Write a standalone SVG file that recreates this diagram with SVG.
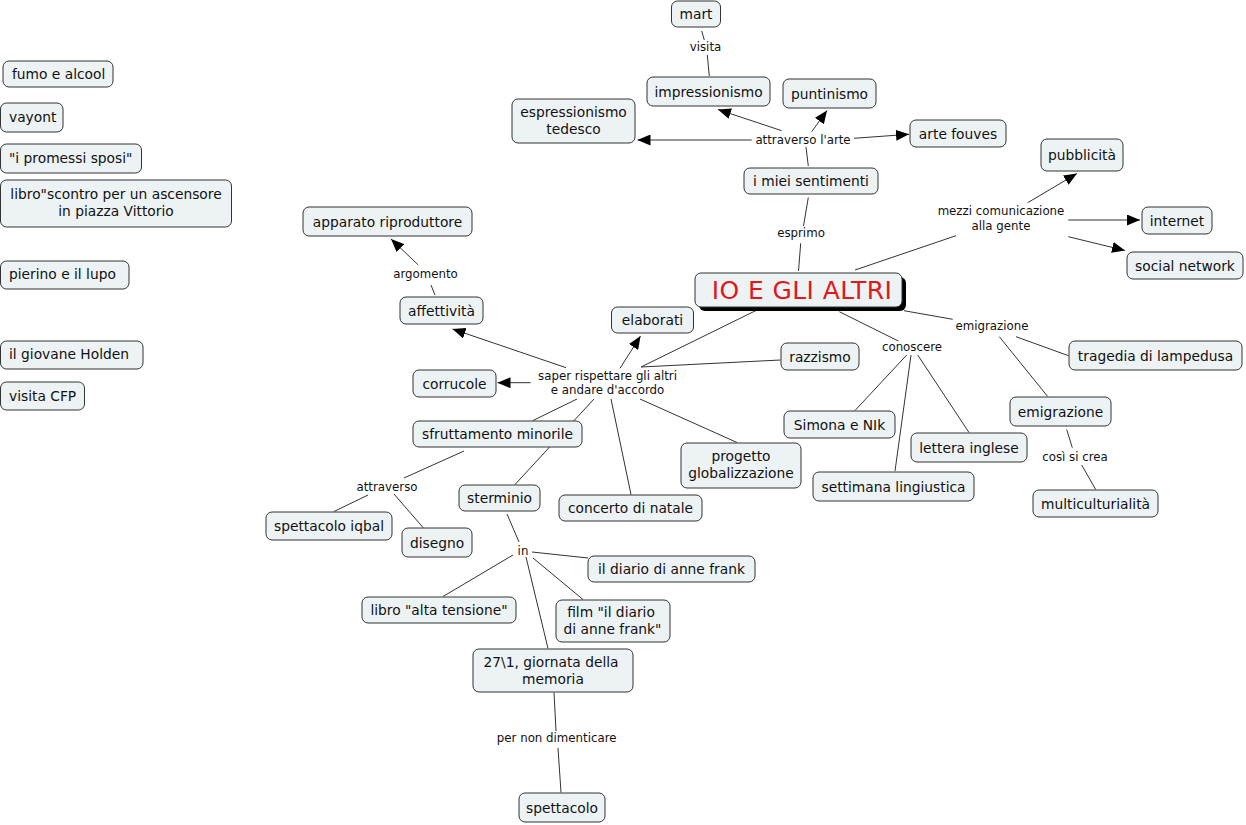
<svg xmlns="http://www.w3.org/2000/svg" width="1246" height="825" viewBox="0 0 1246 825">
<style>
.n rect.b{fill:#edf3f5;stroke:#333;stroke-width:1}
.n text{font-family:"DejaVu Sans",Verdana,sans-serif;font-size:13.8px;fill:#111;text-anchor:middle}
.n text.l{text-anchor:start}
.lb{font-family:"DejaVu Sans",Verdana,sans-serif;font-size:11.8px;fill:#111;text-anchor:middle}
#connectors line{stroke:#333;stroke-width:1;fill:none}
#connectors line.a{marker-end:url(#arr)}
</style>
<defs>
<marker id="arr" markerUnits="userSpaceOnUse" markerWidth="13" markerHeight="11" refX="13" refY="5.5" orient="auto">
<path d="M0,0 L13,5.5 L0,11 z" fill="#000"/>
</marker>
</defs>
<rect width="1246" height="825" fill="#fff"/>
<g id="connectors">
<line x1="701.7" y1="31" x2="704.3" y2="40"/>
<line x1="707.3" y1="55" x2="709.3" y2="76"/>
<line class="a" x1="781.7" y1="130.7" x2="718" y2="109.5"/>
<line class="a" x1="811.7" y1="131.7" x2="827" y2="110.5"/>
<line class="a" x1="751.7" y1="140" x2="637.5" y2="140"/>
<line class="a" x1="854" y1="138.3" x2="909" y2="134.3"/>
<line x1="806" y1="147" x2="808.3" y2="166"/>
<line x1="808.3" y1="197.5" x2="803.5" y2="226"/>
<line x1="800.7" y1="243.3" x2="798.5" y2="271"/>
<line x1="855" y1="270" x2="956" y2="235.7"/>
<line class="a" x1="1027.7" y1="202.7" x2="1077" y2="173.5"/>
<line class="a" x1="1068.3" y1="220" x2="1140" y2="220"/>
<line class="a" x1="1068.3" y1="236.7" x2="1125" y2="250.5"/>
<line x1="904" y1="310.7" x2="952.7" y2="319.3"/>
<line x1="1016" y1="336.7" x2="1068.5" y2="355.7"/>
<line x1="999.3" y1="336.7" x2="1047.7" y2="396.5"/>
<line x1="1066.7" y1="429.5" x2="1072.3" y2="447.7"/>
<line x1="1081.7" y1="465" x2="1095.7" y2="489.5"/>
<line x1="839.3" y1="311.7" x2="898.3" y2="341"/>
<line x1="906.7" y1="355" x2="855" y2="410.5"/>
<line x1="911" y1="355" x2="895" y2="471"/>
<line x1="917.7" y1="355" x2="969" y2="432.5"/>
<line x1="641" y1="367" x2="757" y2="310"/>
<line x1="641" y1="367" x2="780.5" y2="360"/>
<line class="a" x1="620" y1="368.3" x2="640.5" y2="336"/>
<line class="a" x1="566" y1="367.7" x2="452.5" y2="329"/>
<line class="a" x1="530.7" y1="382.7" x2="497.5" y2="382.7"/>
<line x1="435" y1="295" x2="431" y2="285"/>
<line class="a" x1="418.3" y1="265" x2="391" y2="239"/>
<line x1="577" y1="399" x2="533" y2="420.5"/>
<line x1="594" y1="399" x2="515" y2="484.5"/>
<line x1="611" y1="399" x2="631" y2="494.5"/>
<line x1="640" y1="399" x2="737" y2="442.5"/>
<line x1="464" y1="451" x2="404" y2="478"/>
<line x1="368" y1="495" x2="334" y2="511.5"/>
<line x1="394" y1="494" x2="423" y2="527.5"/>
<line x1="507" y1="514" x2="519" y2="542"/>
<line x1="532" y1="552" x2="588" y2="558"/>
<line x1="513" y1="555" x2="443" y2="596.5"/>
<line x1="533" y1="558" x2="583" y2="599.5"/>
<line x1="526" y1="557" x2="548" y2="648.5"/>
<line x1="554" y1="692.5" x2="556" y2="731"/>
<line x1="558" y1="748" x2="561" y2="792.5"/>
</g>
<g id="labels">
<text class="lb" x="705.5" y="51">visita</text>
<text class="lb" x="803" y="144">attraverso l'arte</text>
<text class="lb" x="801" y="237">esprimo</text>
<text class="lb" x="1001" y="215">mezzi comunicazione</text>
<text class="lb" x="1001" y="230">alla gente</text>
<text class="lb" x="992" y="330">emigrazione</text>
<text class="lb" x="912" y="351">conoscere</text>
<text class="lb" x="1075" y="461">così si crea</text>
<text class="lb" x="425.5" y="278">argomento</text>
<text class="lb" x="607.5" y="380">saper rispettare gli altri</text>
<text class="lb" x="607.5" y="394">e andare d'accordo</text>
<text class="lb" x="387" y="491">attraverso</text>
<text class="lb" x="523" y="555">in</text>
<text class="lb" x="556.7" y="742">per non dimenticare</text>
</g>
<g id="n-mart" class="n"><rect class="b" x="671.5" y="1" width="49" height="26" rx="6"/><text x="696" y="19">mart</text></g>
<g id="n-impressionismo" class="n"><rect class="b" x="647" y="77" width="123" height="29" rx="6"/><text x="708.5" y="96.5">impressionismo</text></g>
<g id="n-puntinismo" class="n"><rect class="b" x="783" y="79" width="93" height="29" rx="6"/><text x="829.5" y="98.5">puntinismo</text></g>
<g id="n-espressionismo" class="n"><rect class="b" x="512" y="99" width="123" height="44" rx="6"/><text x="573.5" y="117">espressionismo</text><text x="573.5" y="134">tedesco</text></g>
<g id="n-artefouves" class="n"><rect class="b" x="910" y="120" width="96" height="27" rx="6"/><text x="958" y="138.5">arte fouves</text></g>
<g id="n-sentimenti" class="n"><rect class="b" x="744" y="168" width="134" height="26" rx="6"/><text x="811" y="186">i miei sentimenti</text></g>
<g id="n-pubblicita" class="n"><rect class="b" x="1041" y="139" width="82" height="32" rx="6"/><text x="1082" y="160">pubblicità</text></g>
<g id="n-internet" class="n"><rect class="b" x="1142" y="207" width="70" height="27" rx="6"/><text x="1177" y="225.5">internet</text></g>
<g id="n-social" class="n"><rect class="b" x="1127" y="252" width="116" height="27" rx="6"/><text x="1185" y="270.5">social network</text></g>
<g id="n-io" class="n"><rect x="699" y="277" width="207" height="34" rx="6" fill="#000"/><rect class="b" x="695" y="273" width="207" height="34" rx="6"/><text x="802" y="298.5" style="font-size:25px;letter-spacing:0.4px;fill:#e3161a">IO E GLI ALTRI</text></g>
<g id="n-apparato" class="n"><rect class="b" x="303" y="207" width="169" height="29" rx="6"/><text x="387.5" y="226.5">apparato riproduttore</text></g>
<g id="n-affettivita" class="n"><rect class="b" x="400" y="297" width="83" height="27" rx="6"/><text x="441.5" y="315.5">affettività</text></g>
<g id="n-elaborati" class="n"><rect class="b" x="611.5" y="307" width="82" height="26" rx="6"/><text x="652.5" y="325">elaborati</text></g>
<g id="n-razzismo" class="n"><rect class="b" x="781" y="343" width="78" height="27" rx="6"/><text x="820" y="361.5">razzismo</text></g>
<g id="n-corrucole" class="n"><rect class="b" x="413" y="370" width="83" height="27" rx="6"/><text x="454.5" y="388.5">corrucole</text></g>
<g id="n-tragedia" class="n"><rect class="b" x="1069" y="341" width="173" height="29" rx="6"/><text x="1155.5" y="360.5">tragedia di lampedusa</text></g>
<g id="n-sfruttamento" class="n"><rect class="b" x="413" y="421" width="169" height="26" rx="6"/><text x="497.5" y="439">sfruttamento minorile</text></g>
<g id="n-simona" class="n"><rect class="b" x="784" y="411" width="111" height="27" rx="6"/><text x="839.5" y="429.5">Simona e NIk</text></g>
<g id="n-emigrazione" class="n"><rect class="b" x="1010" y="397" width="101" height="29" rx="6"/><text x="1060.5" y="416.5">emigrazione</text></g>
<g id="n-lettera" class="n"><rect class="b" x="911" y="433" width="116" height="29" rx="6"/><text x="969" y="452.5">lettera inglese</text></g>
<g id="n-progetto" class="n"><rect class="b" x="681" y="443" width="120" height="45" rx="6"/><text x="741" y="461">progetto</text><text x="741" y="478">globalizzazione</text></g>
<g id="n-settimana" class="n"><rect class="b" x="813" y="472" width="161" height="29" rx="6"/><text x="893.5" y="491.5">settimana lingiustica</text></g>
<g id="n-multi" class="n"><rect class="b" x="1033" y="490" width="125" height="27" rx="6"/><text x="1095.5" y="508.5">multiculturialità</text></g>
<g id="n-sterminio" class="n"><rect class="b" x="459" y="485" width="81" height="26" rx="6"/><text x="499.5" y="503">sterminio</text></g>
<g id="n-concerto" class="n"><rect class="b" x="559" y="495" width="143" height="26" rx="6"/><text x="630.5" y="513">concerto di natale</text></g>
<g id="n-iqbal" class="n"><rect class="b" x="266" y="512" width="126" height="28" rx="6"/><text x="329" y="530.5">spettacolo iqbal</text></g>
<g id="n-disegno" class="n"><rect class="b" x="402" y="528" width="70" height="29" rx="6"/><text x="437" y="547.5">disegno</text></g>
<g id="n-diario" class="n"><rect class="b" x="588" y="556" width="167" height="26" rx="6"/><text x="671.5" y="574">il diario di anne frank</text></g>
<g id="n-libroalta" class="n"><rect class="b" x="362" y="597" width="154" height="26" rx="6"/><text x="439" y="615">libro "alta tensione"</text></g>
<g id="n-film" class="n"><rect class="b" x="556" y="600" width="114" height="42" rx="6"/><text x="611" y="617">film "il diario</text><text x="612.5" y="634">di anne frank"</text></g>
<g id="n-giornata" class="n"><rect class="b" x="473" y="649" width="160" height="43" rx="6"/><text x="551" y="667">27\1, giornata della</text><text x="553" y="684">memoria</text></g>
<g id="n-spettacolo" class="n"><rect class="b" x="519" y="793" width="86" height="29" rx="6"/><text x="562" y="812.5">spettacolo</text></g>
<g id="n-fumo" class="n"><rect class="b" x="3" y="61" width="110" height="26" rx="6"/><text class="l" x="12" y="79">fumo e alcool</text></g>
<g id="n-vayont" class="n"><rect class="b" x="0.5" y="103" width="62.5" height="29" rx="6"/><text class="l" x="9" y="122">vayont</text></g>
<g id="n-promessi" class="n"><rect class="b" x="0.5" y="144" width="141" height="29" rx="6"/><text class="l" x="9" y="163">"i promessi sposi"</text></g>
<g id="n-scontro" class="n"><rect class="b" x="0.5" y="180" width="231" height="47" rx="6"/><text x="116" y="199">libro"scontro per un ascensore</text><text x="116" y="216">in piazza Vittorio</text></g>
<g id="n-pierino" class="n"><rect class="b" x="0.5" y="261" width="128.5" height="28" rx="6"/><text class="l" x="9" y="279">pierino e il lupo</text></g>
<g id="n-holden" class="n"><rect class="b" x="0.5" y="341" width="142.5" height="28" rx="6"/><text class="l" x="9" y="359">il giovane Holden</text></g>
<g id="n-cfp" class="n"><rect class="b" x="0.5" y="382" width="84" height="28" rx="6"/><text class="l" x="9" y="401">visita CFP</text></g>
</svg>
